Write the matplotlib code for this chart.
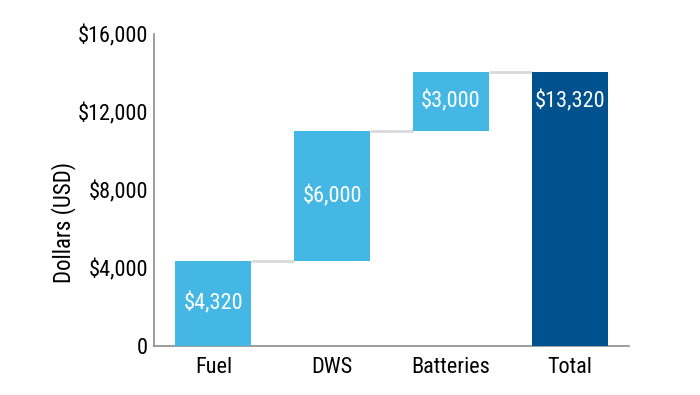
import matplotlib
matplotlib.use("Agg")
import matplotlib.pyplot as plt
import numpy as np

categories = ["Fuel", "DWS", "Batteries", "Total"]
steps = [4400, 6610, 3060]          # bar heights as drawn
total = 14070
value_labels = ["$4,320", "$6,000", "$3,000", "$13,320"]
yticks = [0, 4000, 8000, 12000, 16000]
ytick_labels = ["0", "$4,000", "$8,000", "$12,000", "$16,000"]

light = "#45b7e4"
dark = "#00528f"
conn = "#d9d9d9"

plt.rcParams['font.family'] = ['Roboto Condensed', 'Roboto', 'DejaVu Sans']
FS = 16

fig = plt.figure(figsize=(7, 3.95), dpi=100)
ax = fig.add_axes([0.22, 0.1228, 0.6786, 0.7911])

x = np.arange(len(categories))
width = 0.64
bottoms = np.concatenate([[0], np.cumsum(steps)[:-1]])
tops = np.cumsum(steps)

ax.bar(x[:3], steps, bottom=bottoms, width=width, color=light, zorder=3)
ax.bar(x[3], total, width=width, color=dark, zorder=3)

# connectors
for i in range(3):
    ax.plot([x[i] + width / 2, x[i + 1] - width / 2], [tops[i], tops[i]],
            color=conn, lw=2, zorder=2, solid_capstyle='butt')

# value labels
for i in range(3):
    ax.text(x[i], bottoms[i] + steps[i] / 2, value_labels[i], color="white",
            ha="center", va="center", fontsize=FS, zorder=4)
ax.text(x[3], (bottoms[2] + tops[2]) / 2, value_labels[3], color="white",
        ha="center", va="center", fontsize=FS, zorder=4)

ax.set_xlim(-0.5, 3.5)
ax.set_ylim(0, 16000)
ax.set_xticks(x)
ax.set_xticklabels(categories, fontsize=FS)
ax.set_yticks(yticks)
ax.set_yticklabels(ytick_labels, fontsize=FS)
ax.tick_params(axis='both', length=0)
ax.tick_params(axis='y', pad=4.5)
ax.tick_params(axis='x', pad=7.5)
ax.set_ylabel("Dollars (USD)", fontsize=16.5)
ax.yaxis.set_label_coords(-0.164, 0.396)

for s in ["top", "right"]:
    ax.spines[s].set_visible(False)
for s in ["left", "bottom"]:
    ax.spines[s].set_color("#8c8c8c")
    ax.spines[s].set_linewidth(1.2)

fig.savefig("out.png", dpi=100)
